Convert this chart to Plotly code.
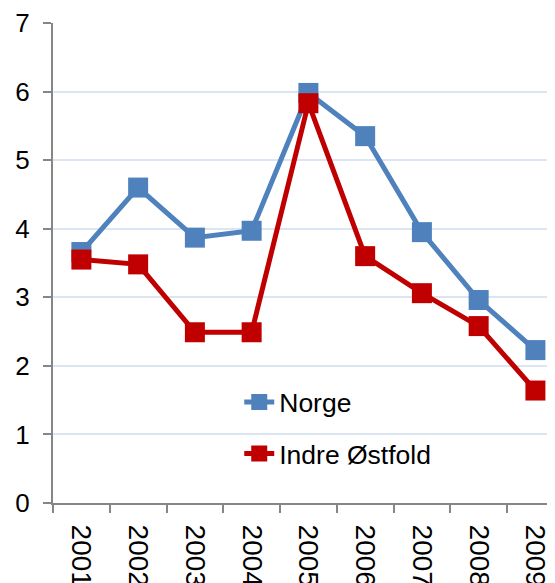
import plotly.graph_objects as go

years = ["2001", "2002", "2003", "2004", "2005", "2006", "2007", "2008", "2009"]
norge = [3.66, 4.60, 3.87, 3.97, 5.98, 5.35, 3.95, 2.96, 2.23]
indre_ostfold = [3.55, 3.48, 2.49, 2.49, 5.83, 3.60, 3.06, 2.58, 1.64]
y_ticks = [0, 1, 2, 3, 4, 5, 6, 7]

FONT = "Liberation Sans, Arial, sans-serif"

fig = go.Figure()
fig.add_trace(go.Scatter(
    x=years, y=norge, name="Norge", mode="lines+markers",
    line=dict(color="#4F81BD", width=5),
    marker=dict(symbol="square", size=20, color="#4F81BD"),
    legendgroup="a",
))
fig.add_trace(go.Scatter(
    x=years, y=indre_ostfold, name="Indre Østfold", mode="lines+markers",
    line=dict(color="#C00000", width=5),
    marker=dict(symbol="square", size=20, color="#C00000"),
    legendgroup="b",
))

# page body has an 8px default margin; margins compensate for it
fig.update_layout(
    width=547, height=575,
    margin=dict(l=45, r=0, t=15, b=80, autoexpand=False),
    paper_bgcolor="white", plot_bgcolor="white",
    font=dict(family=FONT, size=26, color="black"),
    showlegend=True,
    legend=dict(
        x=0.371, y=0.26, xanchor="left", yanchor="top",
        bgcolor="rgba(0,0,0,0)", font=dict(size=26.5),
        tracegroupgap=14, traceorder="grouped",
    ),
    xaxis=dict(
        type="category", range=[-0.5, 8.345], automargin=False,
        showline=True, linecolor="#868686", linewidth=2,
        ticks="outside", tickson="boundaries", ticklen=8, tickwidth=2, tickcolor="#868686",
        tickangle=90, tickfont=dict(size=28), showgrid=False,
        ticklabelstandoff=14,
    ),
    yaxis=dict(
        range=[0, 7], tickvals=y_ticks, automargin=False,
        showline=True, linecolor="#868686", linewidth=2,
        ticks="outside", ticklen=8, tickwidth=2, tickcolor="#868686",
        showgrid=True, gridcolor="#DCE6F2", gridwidth=2,
        zeroline=False, ticklabelstandoff=8, tickfont=dict(size=26),
    ),
)

fig.write_html("out.html")
